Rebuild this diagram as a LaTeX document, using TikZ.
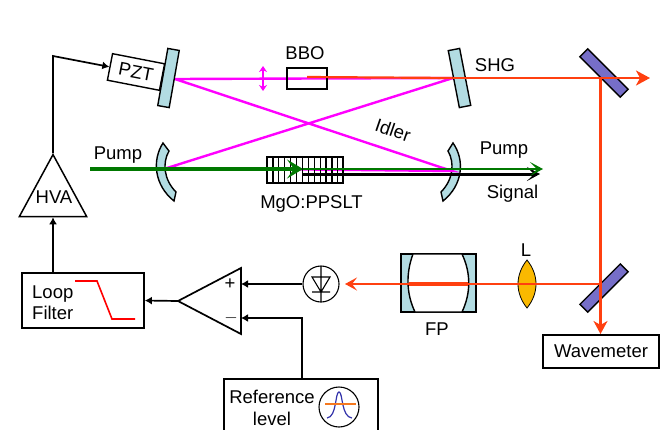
\documentclass[tikz,border=0pt]{standalone}
\usepackage{fontspec}
\setmainfont{Liberation Sans}
\usetikzlibrary{calc}
\usetikzlibrary{arrows.meta}
\usetikzlibrary{shapes.geometric}
\definecolor{mirrorblue}{RGB}{178,220,226}
\definecolor{splitblue}{RGB}{118,110,200}
\definecolor{shgred}{RGB}{255,64,16}
\definecolor{idlerpink}{RGB}{255,0,255}
\definecolor{pumpgreen}{RGB}{0,120,0}
\definecolor{lensyellow}{RGB}{250,185,0}
\definecolor{peakblue}{RGB}{50,50,170}
\definecolor{levelorange}{RGB}{245,120,30}
\tikzset{
    lbl/.style={font=\fontsize{18.5}{21}\selectfont, inner sep=0pt},
    wire/.style={black, line width=1.7pt, -{Latex[length=7pt,width=8pt]}},
    blockbox/.style={draw, line width=1.7pt, inner sep=0pt},
    mirror/.style={draw, fill=mirrorblue, line width=1.4pt},
    splitter/.style={draw, fill=splitblue, line width=1.4pt},
    idlerbeam/.style={idlerpink, line width=2.4pt},
    shgbeam/.style={shgred, line width=2.2pt},
}
\begin{document}
\begin{tikzpicture}[x=1pt,y=-1pt]
        \useasboundingbox (0,0) rectangle (668,429);
        % cavity mirrors, curved
        \draw[mirror] (163,143) -- (169,151) .. controls (162,163) and (164,180) .. (176,192) -- (174,201) .. controls (154,185) and (152,160) .. (163,143) -- cycle;
        \draw[mirror] (453,143) -- (448,151) .. controls (455,163) and (453,180) .. (441,192) -- (443,201) .. controls (463,185) and (465,160) .. (453,143) -- cycle;
        % cavity beams
        \coordinate (m1) at (175,79);
        \coordinate (m2) at (453,78);
        \coordinate (m3) at (167,168);
        \coordinate (m4) at (452,171);
        \draw[idlerbeam] (m1)--(m2)--(m3)--(m4)--cycle;
        \draw[idlerbeam, line width=1.3pt, <->, >={Stealth[length=6pt,width=8pt]}] (263,66)--(263,91);
        % crystals
        \node[blockbox, line width=1.4pt, minimum width=40pt, minimum height=21pt] (bbo) at (307,78.5) {};
        \node[lbl] (bbotext) at (305,53) {BBO};
        \draw[shgbeam] (307,77)--(m2);
        \node[draw, line width=1.3pt, minimum width=76pt, minimum height=26pt, inner sep=0pt] (ppslt) at (305,170) {};
        \foreach \i in {1,...,12}{
            \draw[line width=1.2pt] (267+\i*5.9,157)--(267+\i*5.9,183);
        }
        \node[lbl] (ppslttext) at (311.5,204) {MgO:PPSLT};
        % pump and signal
        \coordinate (pumpin) at (90,169);
        \coordinate (pumpmid) at (303,169);
        \coordinate (pumpout) at (543,169);
        \coordinate (sigin) at (303,174);
        \coordinate (sigout) at (540,174);
        \draw[black, line width=3pt, -{Stealth[length=13pt,width=14pt,inset=7pt]}] (sigin)--(sigout);
        \draw[pumpgreen, line width=2.6pt, -{Stealth[length=13pt,width=14pt,inset=7pt]}] (pumpmid)--(pumpout);
        \draw[pumpgreen, line width=3.8pt, -{Stealth[length=16pt,width=19pt,inset=7pt]}] (pumpin)--(pumpmid);
        \node[lbl] (pumpa) at (118,155) {Pump};
        \node[lbl] (pumpb) at (504,150) {Pump};
        \node[lbl] (signaltext) at (512.5,194) {Signal};
        \node[lbl, rotate=-19] (idlertext) at (393,130) {Idler};
        % cavity mirrors, flat
        \draw[mirror, rotate around={-10:(168.5,78)}] (162.7,49) rectangle (174.3,107);
        \draw[mirror, rotate around={11:(459.5,78)}] (453.7,49) rectangle (465.3,107);
        % PZT
        \node[blockbox, line width=1.4pt, fill=white, rotate=-11, minimum width=53pt, minimum height=27pt, font=\fontsize{18.5}{21}\selectfont] (pzt) at (136,72) {PZT};
        \node[draw, isosceles triangle, isosceles triangle apex angle=57, shape border rotate=90, line width=1.5pt, inner sep=0pt, minimum height=62pt, anchor=apex] (hva) at (53,153) {};
        \node[lbl] (hvatext) at (54,197) {HVA};
        \draw[wire] (hva.apex)--(53,56)--(pzt.west);
        % SHG side
        \draw[splitter, rotate around={-45:(604,73)}] (575.5,67.5) rectangle (632.5,78.5);
        \draw[splitter, rotate around={45:(604,288)}] (575.5,282.5) rectangle (632.5,293.5);
        \coordinate (s1) at (600.5,78);
        \coordinate (s2) at (600.5,284);
        \coordinate (s3) at (600.5,334);
        \draw[shgbeam, -{Stealth[length=14pt,width=15pt,inset=4pt]}] (m2)--(650,78);
        \node[lbl] (shgtext) at (495,65) {SHG};
        \draw[shgbeam, -{Stealth[length=13pt,width=14pt,inset=4pt]}] (s1)--(s3);
        \node[blockbox, minimum width=116pt, minimum height=33pt, font=\fontsize{18.5}{21}\selectfont] (wave) at (601,351.5) {Wavemeter};
        % FP and lens
        \draw[mirror] (401,254) rectangle (476,312);
        \draw[fill=white, line width=1.4pt] (413,254) .. controls (406,273) and (406,293) .. (415,312) -- (462,312) .. controls (471,293) and (471,273) .. (462,254) -- cycle;
        \node[lbl] (fptext) at (437,329) {FP};
        \draw[draw=black, fill=lensyellow, line width=.8pt] (527,260) .. controls (515,275) and (515,293) .. (527,308) .. controls (539,293) and (539,275) .. (527,260) -- cycle;
        \node[lbl] (ltext) at (526,250) {L};
        \draw[shgred, line width=3.6pt] (409,284)--(468,284);
        \draw[shgbeam, -{Stealth[length=12pt,width=13pt,inset=5pt]}] (s2)--(345,284);
        % detector
        \node[draw, circle, line width=1.1pt, minimum size=36pt, inner sep=0pt] (det) at (321,284) {};
        \draw[line width=1.1pt] (321,266)--(321,302) (312,277)--(330,277)--(321,292)--cycle (312,292)--(330,292);
        % amplifier
        \coordinate (ampa) at (241,268);
        \coordinate (ampb) at (241,334);
        \coordinate (ampc) at (178,301);
        \draw[line width=1.7pt] (ampa)--(ampb)--(ampc)--cycle;
        \node[lbl] (plus) at (230,284) {+};
        \node[lbl] (minus) at (231,318) {$-$};
        \draw[wire] (det.west)--(241,284);
        % loop filter
        \node[blockbox, minimum width=122pt, minimum height=55pt] (loop) at (83,300.5) {};
        \node[lbl, align=left, anchor=west] (looptext) at (32,302.5) {Loop\\Filter};
        \draw[red, line width=1.6pt] (75,281)--(97,281)--(112,319)--(135,319);
        \draw[wire] (ampc)--(loop.east);
        \draw[wire] (loop.north -| hva.apex)--(hva.south);
        % reference level
        \node[blockbox, minimum width=154pt, minimum height=60pt] (ref) at (301,409) {};
        \node[lbl, align=center, font=\fontsize{18.5}{22}\selectfont] (reftext) at (272,408) {Reference\\level};
        \node[draw, circle, line width=1.1pt, minimum size=40pt, inner sep=0pt] (peak) at (339,407) {};
        \draw[peakblue, line width=1.2pt] (327,418) .. controls (337,417) and (335,392) .. (339,392) .. controls (343,392) and (341,417) .. (352,418);
        \draw[levelorange, line width=1.4pt] (325,404)--(356,404);
        \draw[wire] (302,379)--(302,318)--(241,318);
    \end{tikzpicture}
\end{document}
